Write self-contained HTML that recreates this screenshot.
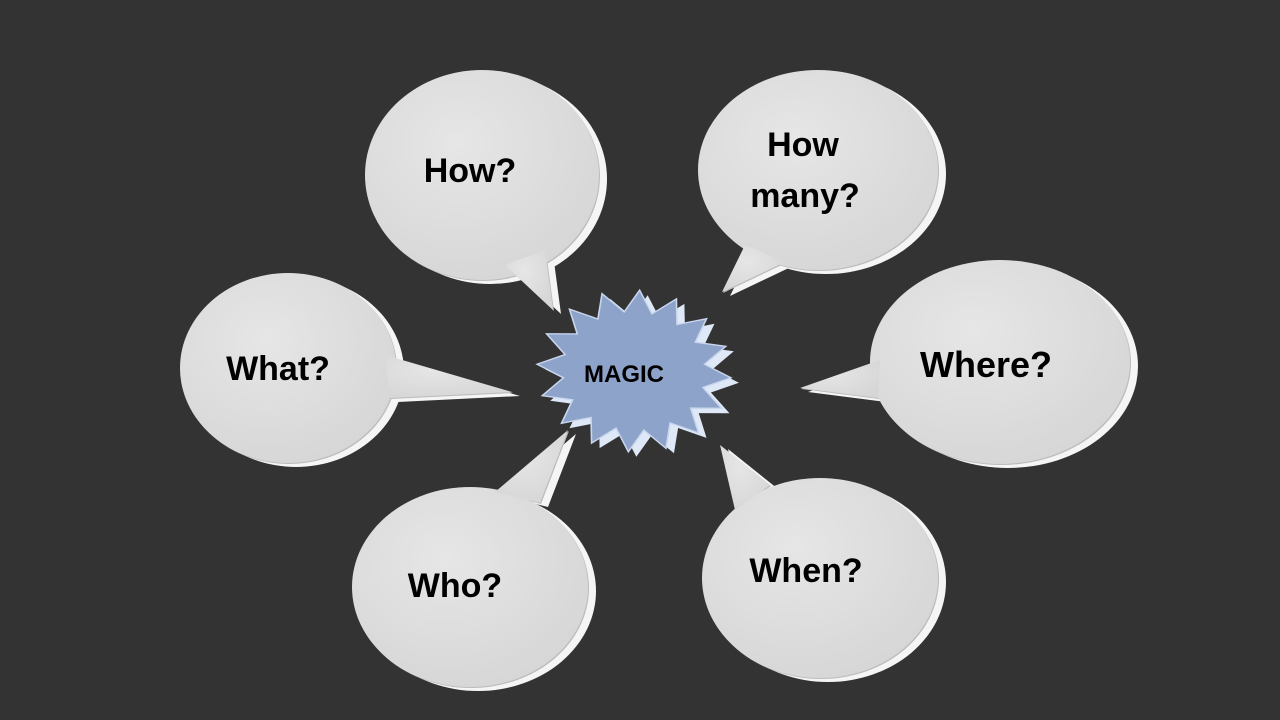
<!DOCTYPE html>
<html><head><meta charset="utf-8"><style>
html,body{margin:0;padding:0;background:#333;}
svg{display:block}
text{font-family:"Liberation Sans",Arial,sans-serif;font-weight:bold;fill:#000;text-anchor:middle}
</style></head><body>
<svg width="1280" height="720" viewBox="0 0 1280 720" xmlns="http://www.w3.org/2000/svg">
<defs>
<radialGradient id="face" cx="0.4" cy="0.35" r="0.7">
<stop offset="0" stop-color="#e6e6e6"/><stop offset="1" stop-color="#d6d6d6"/>
</radialGradient>
<g id="b1"><ellipse cx="482" cy="175" rx="117" ry="105"/><polygon points="505,265 545,250 553,310"/></g>
<g id="b2"><ellipse cx="818" cy="170" rx="120" ry="100"/><polygon points="745,245 785,262 722,292"/></g>
<g id="b3"><ellipse cx="288" cy="368" rx="108" ry="95"/><polygon points="385,355 390,398 512,392"/></g>
<g id="b4"><ellipse cx="1000" cy="362" rx="130" ry="102"/><polygon points="880,360 878,398 800,388"/></g>
<g id="b5"><ellipse cx="470" cy="587" rx="118" ry="100"/><polygon points="495,492 540,503 568,430"/></g>
<g id="b6"><ellipse cx="820" cy="578" rx="118" ry="100"/><polygon points="735,510 770,485 720,445"/></g>
<polygon id="star" points="90,0 64.7,12.9 83.2,34.5 54.8,36.7 63.6,63.6 36.7,54.8 34.5,83.2 12.9,64.7 0,90 -12.9,64.7 -34.5,83.2 -36.7,54.8 -63.6,63.6 -54.8,36.7 -83.2,34.5 -64.7,12.9 -90,0 -64.7,-12.9 -83.2,-34.5 -54.8,-36.7 -63.6,-63.6 -36.7,-54.8 -34.5,-83.2 -12.9,-64.7 0,-90 12.9,-64.7 34.5,-83.2 36.7,-54.8 63.6,-63.6 54.8,-36.7 83.2,-34.5 64.7,-12.9"/>
</defs>
<rect width="1280" height="720" fill="#333"/>
<g fill="#f5f5f5">
<use href="#b1" transform="translate(8,4)"/><use href="#b2" transform="translate(8,4)"/>
<use href="#b3" transform="translate(8,4)"/><use href="#b4" transform="translate(8,4)"/>
<use href="#b5" transform="translate(8,4)"/><use href="#b6" transform="translate(8,4)"/>
</g>
<g fill="#bcbcbc">
<use href="#b1" transform="translate(1,1)"/><use href="#b2" transform="translate(1,1)"/>
<use href="#b3" transform="translate(1,1)"/><use href="#b4" transform="translate(1,1)"/>
<use href="#b5" transform="translate(1,1)"/><use href="#b6" transform="translate(1,1)"/>
</g>
<g fill="url(#face)">
<use href="#b1"/><use href="#b2"/><use href="#b3"/><use href="#b4"/><use href="#b5"/><use href="#b6"/>
</g>
<use href="#star" fill="#dfe8f7" transform="translate(642,376) rotate(4) scale(1.08,0.9)"/>
<use href="#star" fill="#8ea3c9" stroke="#c8d6ee" stroke-width="1.5" transform="translate(634,371) rotate(4) scale(1.08,0.9)"/>
<text x="470" y="182" font-size="34">How?</text>
<text x="803" y="156" font-size="34">How</text>
<text x="805" y="207" font-size="34">many?</text>
<text x="278" y="380" font-size="34">What?</text>
<text x="986" y="377" font-size="36">Where?</text>
<text x="455" y="597" font-size="34">Who?</text>
<text x="806" y="582" font-size="34">When?</text>
<text x="624" y="382" font-size="24">MAGIC</text>
</svg>
</body></html>
